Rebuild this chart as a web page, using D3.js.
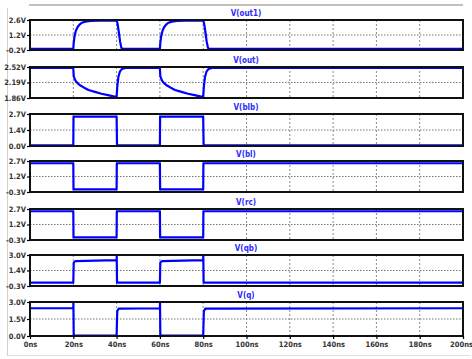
<!DOCTYPE html>
<html>
<head>
<meta charset="utf-8">
<script src="https://cdn.jsdelivr.net/npm/d3@7"></script>
<style>
    body { margin: 0; background: #fff; }
    .axis text { font-family: "Liberation Sans Narrow", "DejaVu Sans Condensed", sans-serif; font-weight: bold; font-size: 7.5px; fill: #333; }
    .axis path { display: none; }
    .axis line { stroke: #000; stroke-width: 1.2; }
    .title { font-family: "Liberation Sans Narrow", "DejaVu Sans Condensed", sans-serif; font-weight: bold; font-size: 8px; fill: #2a2aff; }
</style>
</head>
<body>
<script>
//begin script when window loads
(function(){

    //time axis ticks (ns)
    var timeTicks = [0, 20, 40, 60, 80, 100, 120, 140, 160, 180, 200];
    var timeLabels = ["0ns", "20ns", "40ns", "60ns", "80ns", "100ns", "120ns", "140ns", "160ns", "180ns", "200ns"];

    //trace names
    var traceNames = ["V(out1)", "V(out)", "V(blb)", "V(bl)", "V(rc)", "V(qb)", "V(q)"];

    //y ranges and tick labels of each pane
    var yDomains = [[-0.2, 2.6], [1.86, 2.52], [0, 2.7], [-0.3, 2.7], [-0.3, 2.7], [-0.3, 3.0], [0, 3.0]];
    var yMidTicks = [1.2, 2.19, 1.35, 1.2, 1.2, 1.35, 1.5];
    var yTickLabels = [
        ["-0.2V", "1.2V", "2.6V"],
        ["1.86V", "2.19V", "2.52V"],
        ["0.0V", "1.4V", "2.7V"],
        ["-0.3V", "1.2V", "2.7V"],
        ["-0.3V", "1.2V", "2.7V"],
        ["-0.3V", "1.4V", "3.0V"],
        ["0.0V", "1.5V", "3.0V"]
    ];

    //waveforms, [time ns, volts]
    var out1 = [[0,-0.1],[20,-0.1],[20.2,0.5],[20.6,1.1],[21.2,1.6],[22,1.95],[23,2.2],[24,2.35],[25.5,2.45],[28,2.52],[32,2.55],[40,2.56],
        [40.4,2.3],[41,1.5],[41.6,0.6],[42.2,0.0],[42.8,-0.1],[60,-0.1],
        [60.2,0.5],[60.6,1.1],[61.2,1.6],[62,1.95],[63,2.2],[64,2.35],[65.5,2.45],[68,2.52],[72,2.55],[80,2.56],
        [80.4,2.3],[81,1.5],[81.6,0.6],[82.2,0.0],[82.8,-0.1],[200,-0.1]];
    var out = [[0,2.5],[20,2.5],[20.2,2.32],[21,2.23],[22,2.17],[23.5,2.12],[25,2.08],[27,2.03],[30,1.99],[33,1.95],[36,1.92],[40,1.88],
        [40.3,2.1],[40.8,2.3],[41.5,2.42],[42.5,2.48],[44,2.5],[60,2.5],
        [60.2,2.32],[61,2.23],[62,2.17],[63.5,2.12],[65,2.08],[67,2.03],[70,1.99],[73,1.95],[76,1.92],[80,1.88],
        [80.3,2.1],[80.8,2.3],[81.5,2.42],[82.5,2.48],[84,2.5],[200,2.5]];
    var blb = [[0,0.05],[20,0.05],[20.1,2.48],[40,2.48],[40.2,0.05],[60,0.05],[60.1,2.48],[80,2.48],[80.2,0.05],[200,0.05]];
    var bl = [[0,2.48],[20,2.48],[20.1,-0.05],[40,-0.05],[40.1,2.48],[60,2.48],[60.1,-0.05],[80,-0.05],[80.1,2.48],[200,2.48]];
    var rc = [[0,2.48],[20,2.48],[20.1,-0.05],[40,-0.05],[40.1,2.48],[60,2.48],[60.1,-0.05],[80,-0.05],[80.1,2.48],[200,2.48]];
    var qb = [[0,0.05],[20,0.05],[20.2,2.2],[21,2.35],[40,2.45],[40.05,2.95],[40.2,0.05],[60,0.05],
        [60.2,2.2],[61,2.35],[80,2.45],[80.05,2.9],[80.2,0.05],[200,0.05]];
    var q = [[0,2.45],[20,2.45],[20.05,2.95],[20.2,0.03],[40,0.03],[40.3,2.2],[41,2.42],[60,2.45],[60.05,2.95],[60.2,0.03],[80,0.03],
        [80.3,2.2],[81,2.42],[200,2.45]];
    var traces = [out1, out, blb, bl, rc, qb, q];

    //frame dimensions
    var width = 472,
        height = 359,
        left = 30,
        right = 463,
        paneTops = [20, 67, 114, 161, 209, 255, 302],
        paneBottoms = [50, 98, 146, 192, 240, 286, 336];

    var svg = d3.select("body")
        .append("svg")
        .attr("width", width)
        .attr("height", height);

    //screenshot border lines
    svg.append("line").attr("x1", 29).attr("x2", 463).attr("y1", 5).attr("y2", 5)
        .attr("stroke", "#8e7f76").attr("stroke-width", 1);
    svg.append("line").attr("x1", 7.5).attr("x2", 7.5).attr("y1", 8).attr("y2", 355)
        .attr("stroke", "#d0d0d0").attr("stroke-width", 1);
    svg.append("line").attr("x1", 7).attr("x2", 470).attr("y1", 355.5).attr("y2", 355.5)
        .attr("stroke", "#e0e0e0").attr("stroke-width", 1);

    var x = d3.scaleLinear().domain([0, 200]).range([left, right]);

    traces.forEach(function(data, i){
        var top = paneTops[i], bottom = paneBottoms[i];
        var y = d3.scaleLinear().domain(yDomains[i]).range([bottom, top]);
        var yVals = [yDomains[i][0], yMidTicks[i], yDomains[i][1]];

        var pane = svg.append("g").attr("class", "pane");

        //grid
        pane.selectAll(".vgrid")
            .data(timeTicks.slice(1, -1))
            .enter()
            .append("line")
            .attr("x1", function(d){ return x(d); })
            .attr("x2", function(d){ return x(d); })
            .attr("y1", top).attr("y2", bottom)
            .attr("stroke", "#8a8a8a").attr("stroke-width", 1)
            .attr("stroke-dasharray", "2,2");
        pane.append("line")
            .attr("x1", left).attr("x2", right)
            .attr("y1", y(yMidTicks[i])).attr("y2", y(yMidTicks[i]))
            .attr("stroke", "#777").attr("stroke-width", 1)
            .attr("stroke-dasharray", "1.5,1.5");

        //trace
        var line = d3.line()
            .x(function(d){ return x(d[0]); })
            .y(function(d){ return y(d[1]); });
        pane.append("path")
            .datum(data)
            .attr("d", line)
            .attr("fill", "none")
            .attr("stroke", "#0000ff")
            .attr("stroke-width", 2.2)
            .attr("stroke-linejoin", "round");

        //frame
        pane.append("rect")
            .attr("x", left).attr("y", top)
            .attr("width", right - left).attr("height", bottom - top)
            .attr("fill", "none")
            .attr("stroke", "#111")
            .attr("stroke-width", 2);

        //y axis
        var yAxis = d3.axisLeft(y)
            .tickValues(yVals)
            .tickSize(3)
            .tickPadding(1)
            .tickFormat(function(d, k){ return yTickLabels[i][k]; });
        pane.append("g")
            .attr("class", "axis")
            .attr("transform", "translate(" + left + ",0)")
            .call(yAxis);

        //title
        pane.append("text")
            .attr("class", "title")
            .attr("x", 246)
            .attr("y", top - 4)
            .attr("text-anchor", "middle")
            .text(traceNames[i]);

        //time axis on bottom pane
        if (i == traces.length - 1) {
            var xAxis = d3.axisBottom(x)
                .tickValues(timeTicks)
                .tickSize(3)
                .tickPadding(3)
                .tickFormat(function(d, k){ return timeLabels[k]; });
            var gx = pane.append("g")
                .attr("class", "axis")
                .attr("transform", "translate(0," + bottom + ")")
                .call(xAxis);
            //keep the last label inside the window
            gx.selectAll(".tick text")
                .filter(function(d){ return d == 200; })
                .attr("dx", -2);
        }
    });
})();
</script>
</body>
</html>
